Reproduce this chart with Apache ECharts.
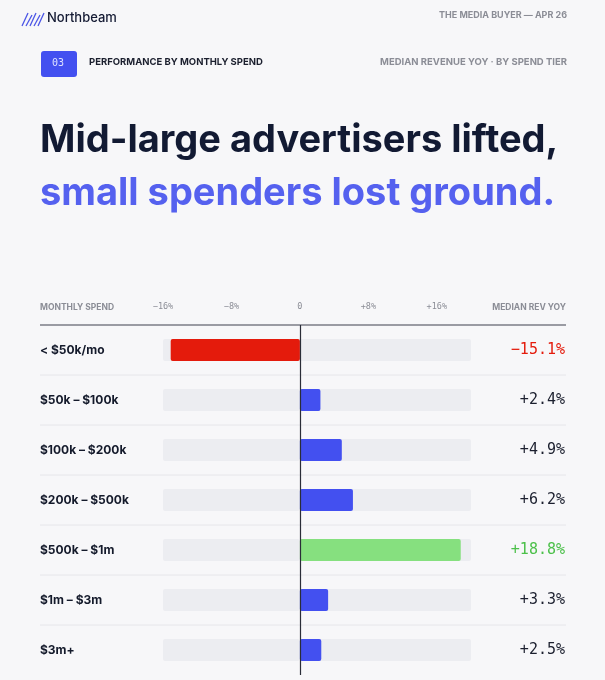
<!DOCTYPE html>
<html>
<head>
<meta charset="utf-8">
<script src="https://cdn.jsdelivr.net/npm/echarts@6.0.0/dist/echarts.min.js"></script>
</head>
<body style="margin:0;background:#f7f7f9;">
<div id="main" style="width:605px;height:680px;"></div>
<script>
var tiers = ['< $50k/mo', '$50k – $100k', '$100k – $200k', '$200k – $500k', '$500k – $1m', '$1m – $3m', '$3m+'];
var yoy = [-15.1, 2.4, 4.9, 6.2, 18.8, 3.3, 2.5];
var colors = { neg: '#e41b0c', pos: '#4350f0', top: '#86e07f', track: '#ecedf1' };

var axisMin = -16, axisMax = 20;
var best = Math.max.apply(null, yoy);

function barColor(v) {
    if (v < 0) return colors.neg;
    if (v === best) return colors.top;
    return colors.pos;
}
function fmt(v) {
    return (v > 0 ? '+' : '−') + Math.abs(v).toFixed(1) + '%';
}

var chart = echarts.init(document.getElementById('main'));
var sans = 'Inter, "Noto Sans", sans-serif';
var mono = '"DejaVu Sans Mono", monospace';

// row separators
var seps = [];
for (var i = 1; i < tiers.length; i++) {
    var y = 325 + i * 50;
    seps.push({ type: 'line', shape: { x1: 40, y1: y, x2: 566, y2: y }, style: { stroke: '#e6e6ea', lineWidth: 1 } });
}

// logo stripes
var logo = [];
for (var k = 0; k < 5; k++) {
    logo.push({ type: 'line', shape: { x1: 22 + k * 4, y1: 26, x2: 28 + k * 4, y2: 13 + (k % 2) * 2 },
        style: { stroke: '#4b55e6', lineWidth: 1.3 } });
}

var option = {
    backgroundColor: '#f7f7f9',
    animation: false,
    textStyle: { fontFamily: sans },
    graphic: logo.concat(seps).concat([
        { type: 'text', left: 47, top: 12, style: { text: 'Northbeam', font: '500 13px ' + sans, fill: '#141a33' } },
        { type: 'text', right: 38, top: 11, style: { text: 'THE MEDIA BUYER — APR 26', font: 'bold 9px ' + sans, fill: '#8b8d96' } },
        { type: 'rect', shape: { x: 41, y: 51, width: 36, height: 26, r: 3 }, style: { fill: '#4350f0' } },
        { type: 'text', left: 52, top: 58, style: { text: '03', font: '10px ' + mono, fill: '#dfe2ff' } },
        { type: 'text', left: 89, top: 57, style: { text: 'PERFORMANCE BY MONTHLY SPEND', font: 'bold 9.5px ' + sans, fill: '#1b1f2e' } },
        { type: 'text', right: 38, top: 57, style: { text: 'MEDIAN REVENUE YOY · BY SPEND TIER', font: 'bold 9.5px ' + sans, fill: '#8b8d96' } },
        { type: 'text', left: 40, top: 122, style: { text: 'Mid-large advertisers lifted,', font: 'bold 38px ' + sans, fill: '#121a33' } },
        { type: 'text', left: 40, top: 175, style: { text: 'small spenders lost ground.', font: 'bold 38px ' + sans, fill: '#5561ef' } },
        { type: 'text', left: 40, top: 303, style: { text: 'MONTHLY SPEND', font: 'bold 8.5px ' + sans, fill: '#8b8d96' } },
        { type: 'text', right: 39, top: 303, style: { text: 'MEDIAN REV YOY', font: 'bold 8.5px ' + sans, fill: '#8b8d96' } },
        { type: 'line', shape: { x1: 40, y1: 325, x2: 566, y2: 325 }, style: { stroke: '#7b7d86', lineWidth: 1.5 } }
    ]),
    grid: { left: 163, right: 134, top: 325, bottom: 5 },
    xAxis: {
        type: 'value', position: 'top', min: axisMin, max: axisMax, interval: 8,
        axisLine: { show: false }, axisTick: { show: false }, splitLine: { show: false },
        axisLabel: {
            margin: 14, showMaxLabel: false, color: '#8b8d96', fontSize: 8.5, fontFamily: mono,
            formatter: function (v) { return v > 0 ? '+' + v + '%' : (v === 0 ? '0' : '−' + Math.abs(v) + '%'); }
        }
    },
    yAxis: [{
        type: 'category', data: tiers, inverse: true,
        axisLine: { show: false }, axisTick: { show: false },
        axisLabel: { align: 'left', margin: 123, color: '#141a2b', fontSize: 12, fontWeight: 'bold' }
    }, {
        type: 'category', data: yoy.map(fmt), inverse: true, position: 'right',
        axisLine: { show: false }, axisTick: { show: false },
        axisLabel: {
            align: 'right', margin: 94, fontSize: 15, fontFamily: mono,
            color: function (val, idx) { return yoy[idx] < 0 ? colors.neg : (yoy[idx] === best ? '#4cc04a' : '#1b1f2e'); }
        }
    }],
    series: [
        { type: 'bar', data: tiers.map(function () { return axisMin; }), barWidth: 22, barGap: '-100%', silent: true,
          itemStyle: { color: colors.track, borderRadius: 2 } },
        { type: 'bar', data: tiers.map(function () { return axisMax; }), barWidth: 22, barGap: '-100%', silent: true,
          itemStyle: { color: colors.track, borderRadius: 2 } },
        { type: 'bar', barWidth: 22, barGap: '-100%',
          data: yoy.map(function (v) { return { value: v, itemStyle: { color: barColor(v), borderRadius: 2 } }; }),
          markLine: { symbol: 'none', silent: true, label: { show: false },
              lineStyle: { color: '#2a2d38', width: 1.2, type: 'solid' }, data: [{ xAxis: 0 }] } }
    ]
};
chart.setOption(option);
</script>
</body>
</html>
